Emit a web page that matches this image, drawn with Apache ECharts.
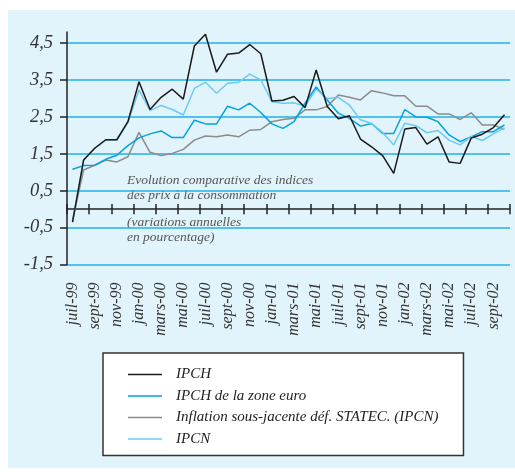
<!DOCTYPE html>
<html>
<head>
<meta charset="utf-8">
<script src="https://cdn.jsdelivr.net/npm/echarts@6/dist/echarts.min.js"></script>
<style>
html,body{margin:0;padding:0;background:#fff;}
#panel{position:absolute;left:8px;top:10px;width:507px;height:458px;background:#e1f3fb;}
#chart{position:absolute;left:0;top:0;width:515px;height:472px;}
</style>
</head>
<body>
<div id="panel"></div>
<div id="chart"></div>
<script>
const categories = ['juil-99','août-99','sept-99','oct-99','nov-99','déc-99',
  'jan-00','févr-00','mars-00','avr-00','mai-00','juin-00','juil-00','août-00','sept-00','oct-00','nov-00','déc-00',
  'jan-01','févr-01','mars-01','avr-01','mai-01','juin-01','juil-01','août-01','sept-01','oct-01','nov-01','déc-01',
  'jan-02','févr-02','mars-02','avr-02','mai-02','juin-02','juil-02','août-02','sept-02','oct-02'];
const ipch = [-0.35,1.33,1.65,1.88,1.88,2.37,3.45,2.70,3.03,3.25,2.98,4.42,4.74,3.71,4.20,4.23,4.46,4.21,
  2.93,2.95,3.05,2.75,3.77,2.78,2.45,2.53,1.90,1.69,1.45,0.97,2.17,2.21,1.76,1.96,1.28,1.24,1.93,2.03,2.21,2.56];
const ipchEuro = [1.08,1.18,1.19,1.35,1.46,1.72,1.93,2.04,2.12,1.94,1.94,2.41,2.31,2.31,2.79,2.69,2.87,2.62,
  2.31,2.19,2.37,2.87,3.31,2.96,2.60,2.46,2.25,2.32,2.05,2.05,2.70,2.50,2.49,2.37,2.01,1.83,1.96,2.10,2.10,2.28];
const inflationSJ = [-0.3,1.06,1.19,1.33,1.28,1.42,2.08,1.54,1.45,1.51,1.62,1.87,1.98,1.96,2.01,1.96,2.14,2.16,
  2.37,2.43,2.46,2.69,2.69,2.78,3.09,3.03,2.96,3.21,3.15,3.07,3.07,2.79,2.79,2.58,2.58,2.43,2.61,2.28,2.28,2.16];
const ipcn = [-0.35,1.33,1.65,1.87,1.88,2.35,3.23,2.67,2.81,2.70,2.55,3.27,3.44,3.14,3.41,3.44,3.66,3.50,
  2.91,2.87,2.88,2.79,3.25,3.00,3.03,2.82,2.42,2.32,2.08,1.74,2.33,2.26,2.07,2.13,1.87,1.74,1.97,1.86,2.04,2.20];
const seriesNames = ['IPCH','IPCH de la zone euro','Inflation sous-jacente déf. STATEC. (IPCN)','IPCN'];
const yTickValues = [-1.5,-0.5,0.5,1.5,2.5,3.5,4.5];

const FONT = '"Liberation Serif","DejaVu Serif",serif';
const GRID = '#1fb2e6';
const chart = echarts.init(document.getElementById('chart'), null, {renderer:'canvas'});
function mk(name, data, color, z){
  return {name:name, type:'line', data:data, symbol:'none', z:z,
    lineStyle:{color:color, width:1.5}, itemStyle:{color:color}, emphasis:{disabled:true}};
}
chart.setOption({
  animation:false,
  backgroundColor:'transparent',
  grid:{left:67, right:5, top:32, bottom:207.5, containLabel:false},
  xAxis:[{
    type:'category', data:categories, boundaryGap:true, position:'bottom',
    axisLine:{onZero:true, lineStyle:{color:'#222', width:1.5}},
    axisTick:{show:true, interval:1, length:5, lineStyle:{color:'#222', width:1.5}},
    axisLabel:{interval:1, rotate:90, margin:18, color:'#333', fontSize:16, fontStyle:'italic', fontFamily:FONT},
    splitLine:{show:false}
  },{
    type:'category', data:categories, boundaryGap:true, position:'bottom', offset:-55.4,
    axisLine:{onZero:false, show:false},
    axisTick:{show:true, inside:true, interval:1, length:5, lineStyle:{color:'#222', width:1.5}},
    axisLabel:{show:false}, splitLine:{show:false}
  }],
  yAxis:{
    type:'value', min:-1.5, max:4.8, interval:1,
    axisLine:{show:true, onZero:false, lineStyle:{color:'#222', width:1.5}},
    axisTick:{show:true, length:7, customValues:yTickValues, lineStyle:{color:'#222', width:1.5}},
    axisLabel:{margin:14, color:'#333', fontSize:18.5, fontStyle:'italic', fontFamily:FONT, customValues:yTickValues,
      formatter:function(v){ return (Math.round(v*10)/10).toFixed(1).replace('.', ','); }},
    splitLine:{show:true, lineStyle:{color:[GRID,GRID,GRID,GRID,GRID,GRID,GRID,'rgba(0,0,0,0)'], width:1.5}}
  },
  legend:{
    orient:'vertical', left:103, top:353,
    padding:[14,25,9,25], itemGap:6.5, itemWidth:34, itemHeight:14,
    icon:'path://M0,0 H34 V1.5 H0 Z',
    backgroundColor:'#fff', borderColor:'#333', borderWidth:1.5,
    textStyle:{color:'#222', fontSize:15, fontStyle:'italic', fontFamily:FONT, padding:[0,0,0,9]},
    data:seriesNames
  },
  graphic:[
    {type:'text', left:127, top:173, silent:true, style:{text:'Evolution comparative des indices', font:'italic 13.5px '+FONT, fill:'#555'}},
    {type:'text', left:127, top:188, silent:true, style:{text:'des prix à la consommation', font:'italic 13.5px '+FONT, fill:'#555'}},
    {type:'text', left:127, top:215, silent:true, style:{text:'(variations annuelles', font:'italic 13.5px '+FONT, fill:'#555'}},
    {type:'text', left:127, top:230, silent:true, style:{text:'en pourcentage)', font:'italic 13.5px '+FONT, fill:'#555'}}
  ],
  series:[
    mk(seriesNames[2], inflationSJ, '#8c8c8c', 2),
    mk(seriesNames[1], ipchEuro, '#00a3e0', 3),
    mk(seriesNames[3], ipcn, '#6ccbf2', 4),
    mk(seriesNames[0], ipch, '#1a1a1a', 5)
  ]
});
</script>
</body>
</html>
